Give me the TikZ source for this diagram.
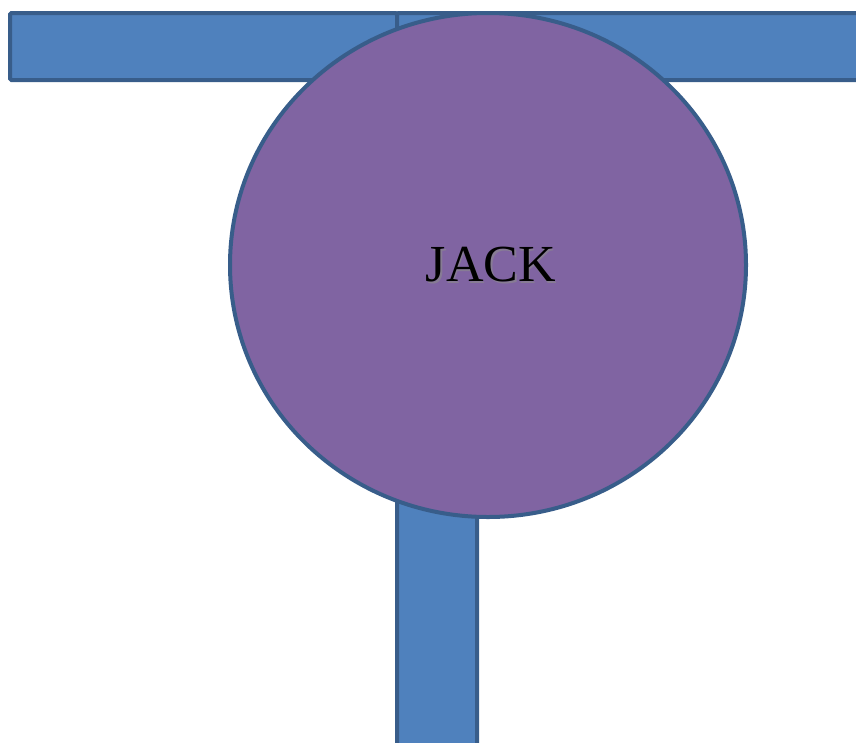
\documentclass[tikz,border=0pt]{standalone}
\usepackage{fontspec}
\setmainfont{Liberation Serif}
\usepackage{xcolor}
\usetikzlibrary{shapes.geometric}
\definecolor{barblue}{HTML}{4F81BD}
\definecolor{edgeblue}{HTML}{385D8A}
\definecolor{jackpurple}{HTML}{8064A2}
\tikzset{bar/.style={fill=barblue,draw=edgeblue,line width=4pt,rounded corners=1.5pt}}

\begin{document}
\begin{tikzpicture}[x=1pt,y=-1pt]
\clip(0,0)rectangle(856,742);
\draw[bar](10,13)rectangle(397,80);
\draw[bar](397,13)rectangle(880,80);
\draw[bar](397,480)rectangle(477,770);
\node[ellipse,fill=jackpurple,draw=edgeblue,line width=4pt,minimum width=516pt,minimum height=504pt,inner sep=0pt](jack)at(488,265){};
\node[text=black!45,opacity=0.6,font=\fontsize{52}{54}\selectfont](jackshadow)at([shift={(1.5,1.5)}]491,265){JACK};
\node[font=\fontsize{52}{54}\selectfont](jacktext)at(491,265){JACK};
\end{tikzpicture}
\end{document}
